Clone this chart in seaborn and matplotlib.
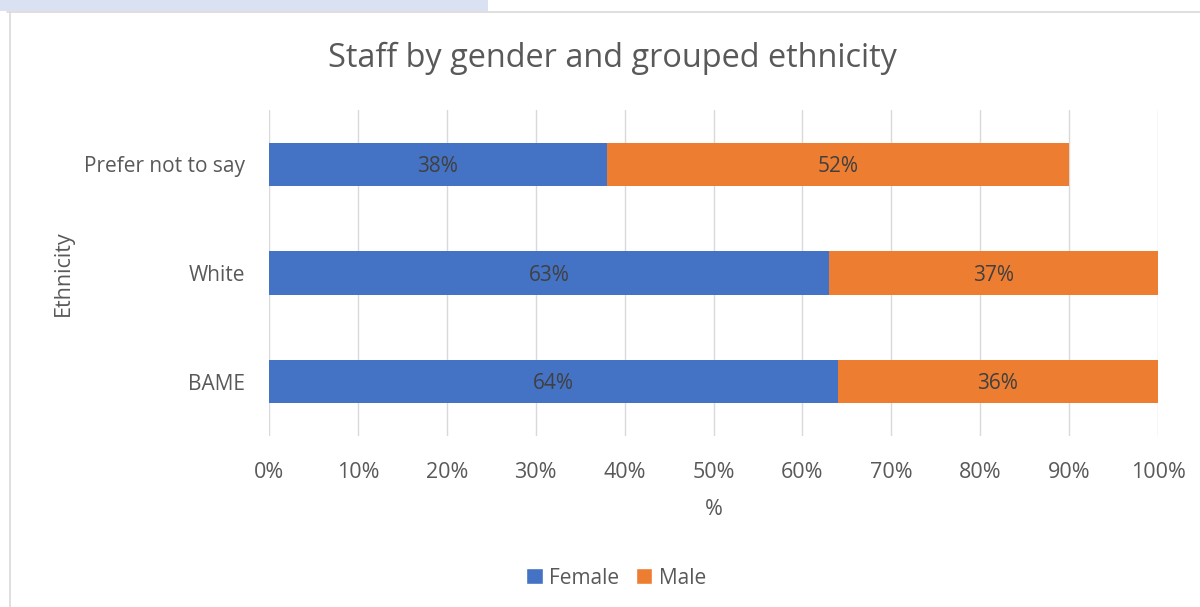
import matplotlib
matplotlib.use("Agg")
import matplotlib.pyplot as plt
import seaborn as sns
import pandas as pd
from matplotlib.patches import Rectangle, Patch
from matplotlib.lines import Line2D

categories = ["Prefer not to say", "White", "BAME"]
female = [38, 63, 64]
male = [52, 37, 36]
xticks = [0, 10, 20, 30, 40, 50, 60, 70, 80, 90, 100]
tick_labels = [f"{v}%" for v in xticks]

sns.set_theme(style="white")
plt.rcParams["font.family"] = ["Open Sans", "DejaVu Sans"]

BLUE = "#4472C4"
ORANGE = "#ED7D31"
GREY = "#595959"

df = pd.DataFrame({"Ethnicity": categories, "Female": female, "Male": male})
df["Total"] = df["Female"] + df["Male"]

fig = plt.figure(figsize=(12, 6.07), dpi=100)
ax = fig.add_axes([269/1200, 1-436/607, (1158-269)/1200, (436-110)/607])

sns.barplot(data=df, y="Ethnicity", x="Total", color=ORANGE, orient="h",
            width=0.4, ax=ax, saturation=1, zorder=3, linewidth=0)
sns.barplot(data=df, y="Ethnicity", x="Female", color=BLUE, orient="h",
            width=0.4, ax=ax, saturation=1, zorder=4, linewidth=0)

for i, (f, m) in enumerate(zip(female, male)):
    ax.text(f/2, i + 0.02, f"{f}%", ha="center", va="center", color="#404040", fontsize=15, zorder=5)
    ax.text(f + m/2, i + 0.02, f"{m}%", ha="center", va="center", color="#404040", fontsize=15, zorder=5)

ax.set_xlim(0, 100)
ax.set_ylim(2.5, -0.5)
ax.set_xticks(xticks)
ax.set_xticklabels(tick_labels)
ax.tick_params(axis="x", colors=GREY, labelsize=15.5, length=0, pad=19)
ax.tick_params(axis="y", colors=GREY, labelsize=15, length=0, pad=17)
for lab in ax.get_xticklabels() + ax.get_yticklabels():
    lab.set_color(GREY)
ax.grid(axis="x", color="#D9D9D9", linewidth=1, zorder=0)
ax.set_axisbelow(True)
for s in ax.spines.values():
    s.set_visible(False)
ax.set_xlabel("%", color=GREY, fontsize=15.5, labelpad=11)
ax.set_ylabel("Ethnicity", color=GREY, fontsize=15.5, labelpad=10)
ax.yaxis.set_label_coords(-0.220, 0.5)

fig.text(612/1200, 1-58/607, "Staff by gender and grouped ethnicity", ha="center", va="center",
         fontsize=23.4, color=GREY)

handles = [Patch(facecolor=BLUE, label="Female"), Patch(facecolor=ORANGE, label="Male")]
fig.legend(handles=handles, loc="center", bbox_to_anchor=(616/1200, 1-578/607), ncol=2,
           frameon=False, fontsize=15, handlelength=0.8, handleheight=0.8,
           handletextpad=0.3, columnspacing=0.8, labelcolor=GREY)

# chart border and spreadsheet remnant at top
fig.add_artist(Rectangle((0, 1-11/607), 488/1200, 11/607, transform=fig.transFigure,
                         facecolor="#DAE1F3", edgecolor="none"))
fig.add_artist(Line2D([7/1200, 1], [1-12/607, 1-12/607], transform=fig.transFigure,
                      color="#D9D9D9", linewidth=1.2))
fig.add_artist(Line2D([10/1200, 10/1200], [0, 1-12/607], transform=fig.transFigure,
                      color="#D9D9D9", linewidth=1.2))

fig.savefig("out.png", dpi=100, facecolor="white")
